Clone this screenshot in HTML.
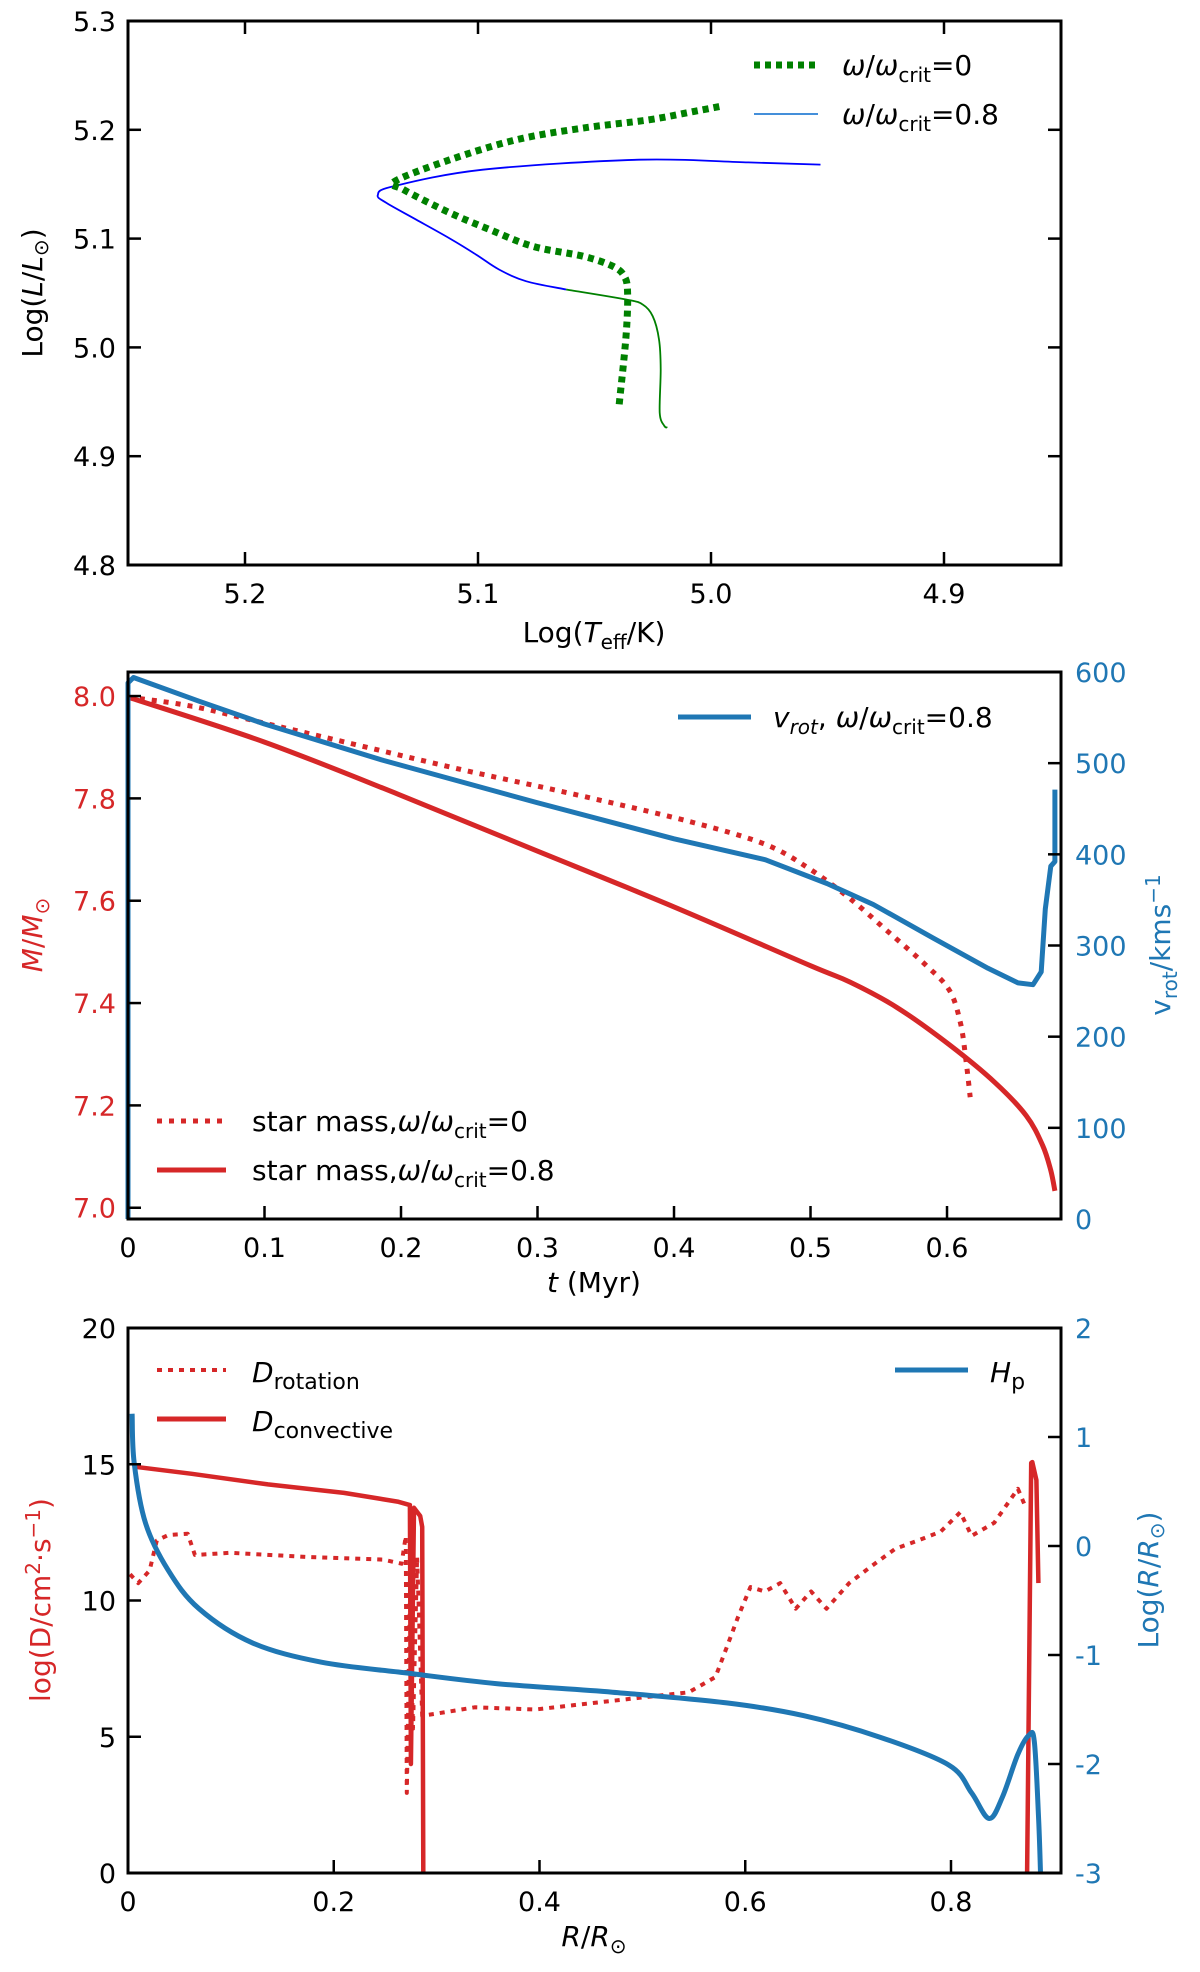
<!DOCTYPE html>
<html><head><meta charset="utf-8">
<style>
html,body{margin:0;padding:0;background:#fff;}
svg{display:block;font-family:"DejaVu Sans","Liberation Sans",sans-serif;}
</style></head>
<body>
<svg id="fig" width="1200" height="1972" viewBox="0 0 1200 1972" xmlns="http://www.w3.org/2000/svg"></svg>
<script>
// ---------- Panel 1 data (HR diagram) ----------
const hrNoRotT = [5.0394,5.0365,5.0358,5.0372,5.0422,5.055,5.0765,5.095,5.112,5.132,5.1358,5.112,5.0836,5.055,5.0266,5.007,4.995];
const hrNoRotL = [4.9477,5.010,5.050,5.0654,5.0746,5.0838,5.0929,5.1083,5.1236,5.145,5.1526,5.1725,5.1908,5.2016,5.2092,5.217,5.222];
const hrRotGreenT = [5.0187,5.0201,5.022,5.0216,5.0223,5.025,5.0294,5.0365,5.0622];
const hrRotGreenL = [4.9263,4.928,4.94,4.98,5.0073,5.0287,5.0395,5.044,5.0532];
const hrRotBlueT = [5.0622,5.0794,5.091,5.1008,5.112,5.1265,5.1393,5.143,5.1365,5.098,5.0308,4.984,4.953];
const hrRotBlueL = [5.0532,5.0608,5.0716,5.0853,5.100,5.1174,5.1328,5.140,5.148,5.1633,5.1725,5.170,5.168];
const p1XTicks = [5.2,5.1,5.0,4.9];
const p1XTickLabels = ["5.2","5.1","5.0","4.9"];
const p1YTicks = [4.8,4.9,5.0,5.1,5.2,5.3];
const p1YTickLabels = ["4.8","4.9","5.0","5.1","5.2","5.3"];

// ---------- Panel 2 data (mass & vrot vs time) ----------
const massNoRotT = [0,0.047,0.1,0.159,0.243,0.327,0.411,0.467,0.5,0.529,0.557,0.585,0.602,0.61,0.614,0.617];
const massNoRotM = [7.998,7.98,7.947,7.91,7.857,7.808,7.755,7.71,7.661,7.604,7.539,7.473,7.424,7.359,7.286,7.216];
const massRotT = [0,0.1,0.198,0.299,0.4,0.5,0.529,0.563,0.602,0.635,0.658,0.67,0.676,0.679];
const massRotM = [7.998,7.91,7.808,7.698,7.588,7.473,7.441,7.392,7.318,7.245,7.18,7.122,7.073,7.033];
const vrotT = [0,0,0.004,0.052,0.1,0.187,0.299,0.4,0.467,0.512,0.546,0.59,0.63,0.652,0.663,0.669,0.672,0.676,0.679,0.679];
const vrotV = [0,588,594,568,543,503,457,417,394,368,345,308,275,259,257,271,340,387,392,471];
const p2XTicks = [0,0.1,0.2,0.3,0.4,0.5,0.6];
const p2XTickLabels = ["0","0.1","0.2","0.3","0.4","0.5","0.6"];
const p2YTicks = [7.0,7.2,7.4,7.6,7.8,8.0];
const p2YTickLabels = ["7.0","7.2","7.4","7.6","7.8","8.0"];
const p2Y2Ticks = [0,100,200,300,400,500,600];
const p2Y2TickLabels = ["0","100","200","300","400","500","600"];

// ---------- Panel 3 data (diffusion coefficients) ----------
const drotR = [0.002,0.01,0.021,0.028,0.039,0.058,0.065,0.099,0.173,0.248,0.266,0.27,0.271,0.274,0.277,0.281,0.286,0.3,0.337,0.396,0.471,0.545,0.571,0.582,0.593,0.605,0.619,0.634,0.649,0.664,0.679,0.701,0.723,0.746,0.768,0.79,0.809,0.82,0.842,0.865,0.872];
const drotD = [10.96,10.64,11.1,12.2,12.4,12.45,11.67,11.75,11.6,11.5,11.35,12.37,2.94,10.0,5.3,11.6,5.77,5.85,6.08,6.0,6.32,6.63,7.19,8.28,9.39,10.49,10.33,10.64,9.7,10.33,9.7,10.64,11.27,11.9,12.2,12.53,13.24,12.37,12.85,14.1,13.47];
const dconvR = [0.004,0.01,0.062,0.136,0.21,0.262,0.274,0.275,0.278,0.284,0.286,0.287];
const dconvD = [15.08,14.89,14.65,14.26,13.95,13.63,13.5,4.0,13.4,13.1,12.7,0];
const dconv2R = [0.874,0.878,0.879,0.883,0.885];
const dconv2D = [0,15.05,15.08,14.42,10.64];
const hpR = [0.004,0.006,0.017,0.039,0.069,0.121,0.188,0.27,0.359,0.471,0.582,0.657,0.731,0.798,0.82,0.837,0.85,0.865,0.876,0.881,0.885,0.887];
const hpLogR = [1.214,0.762,0.211,-0.221,-0.575,-0.889,-1.066,-1.164,-1.263,-1.341,-1.439,-1.557,-1.754,-2.01,-2.265,-2.5,-2.304,-1.911,-1.734,-1.793,-2.461,-3];
const p3XTicks = [0,0.2,0.4,0.6,0.8];
const p3XTickLabels = ["0","0.2","0.4","0.6","0.8"];
const p3YTicks = [0,5,10,15,20];
const p3YTickLabels = ["0","5","10","15","20"];
const p3Y2Ticks = [-3,-2,-1,0,1,2];
const p3Y2TickLabels = ["-3","-2","-1","0","1","2"];

const NS = "http://www.w3.org/2000/svg";
const svg = document.getElementById('fig');
function mk(tag, attrs, parent){
  const e = document.createElementNS(NS, tag);
  for (const k in attrs) e.setAttribute(k, attrs[k]);
  (parent||svg).appendChild(e);
  return e;
}
function lin(d0,d1,p0,p1){ return v => p0 + (v-d0)/(d1-d0)*(p1-p0); }
const L = 128, R = 1061;
const RED = "#d62728", BLUE = "#1f77b4";

function pathD(xs, ys, fx, fy, smooth){
  const P = xs.map((x,i)=>[fx(x), fy(ys[i])]);
  if (!smooth) return P.map((p,i)=>(i?'L':'M')+p[0].toFixed(1)+','+p[1].toFixed(1)).join(' ');
  let d = 'M'+P[0][0].toFixed(1)+','+P[0][1].toFixed(1);
  for (let i=0;i<P.length-1;i++){
    const p0=P[Math.max(i-1,0)], p1=P[i], p2=P[i+1], p3=P[Math.min(i+2,P.length-1)];
    const c1=[p1[0]+(p2[0]-p0[0])/6, p1[1]+(p2[1]-p0[1])/6];
    const c2=[p2[0]-(p3[0]-p1[0])/6, p2[1]-(p3[1]-p1[1])/6];
    d += ' C'+c1[0].toFixed(1)+','+c1[1].toFixed(1)+' '+c2[0].toFixed(1)+','+c2[1].toFixed(1)+' '+p2[0].toFixed(1)+','+p2[1].toFixed(1);
  }
  return d;
}
function frame(top, bottom, name){
  const r = mk('rect',{x:L,y:top,width:R-L,height:bottom-top,fill:'none',stroke:'#000','stroke-width':3});
  
  
}
function xTicks(ticks, labels, fx, top, bottom, topTicks, name){
  ticks.forEach((t,i)=>{
    const x = fx(t);
    const tk = mk('line',{x1:x,x2:x,y1:bottom,y2:bottom-13,stroke:'#000','stroke-width':2.5});
    
    
    if (topTicks){
      const tt = mk('line',{x1:x,x2:x,y1:top,y2:top+13,stroke:'#000','stroke-width':2.5});
      
      
    }
    const tx = mk('text',{x:x,y:bottom+38,'text-anchor':'middle','font-size':27,fill:'#000'});
    tx.textContent = labels[i];
    
    
  });
}
function yTicks(ticks, labels, fy, color, name, side){
  ticks.forEach((t,i)=>{
    const y = fy(t);
    const x0 = side==='left'?L:R;
    const x1 = side==='left'?L+13:R-13;
    const tk = mk('line',{x1:x0,x2:x1,y1:y,y2:y,stroke:'#000','stroke-width':2.5});
    
    
    if (labels[i] === undefined) return;
    const tx = mk('text',{x: side==='left'?L-12:R+14, y:y+10,'text-anchor': side==='left'?'end':'start','font-size':27,fill:color});
    tx.textContent = labels[i];
    
    
  });
}
function series(xs, ys, fx, fy, attrs, name, smooth){
  const p = mk('path', Object.assign({d:pathD(xs,ys,fx,fy,smooth),fill:'none','stroke-linejoin':'round'}, attrs));
  
  
  return p;
}
function htmlText(x,y,html,attrs,name){
  const t = mk('text', Object.assign({x:x,y:y,'font-size':28,fill:'#000'}, attrs));
  t.innerHTML = html;
  
  
  return t;
}

// ===== Panel 1 =====
(function(){
  const top=21, bottom=565;
  const fx = lin(5.2,4.9,245,944);
  const fy = lin(5.3,4.8,top,bottom);
  series(hrRotGreenT, hrRotGreenL, fx, fy, {stroke:'green','stroke-width':1.8}, 'rot-track-green-segment', true);
  series(hrRotBlueT, hrRotBlueL, fx, fy, {stroke:'blue','stroke-width':1.8}, 'rot-track-blue-segment', true);
  series(hrNoRotT, hrNoRotL, fx, fy, {stroke:'green','stroke-width':7,'stroke-dasharray':'6 5'}, 'norot-track', true);
  frame(top,bottom,'hr-panel');
  xTicks(p1XTicks,p1XTickLabels,fx,top,bottom,true,'hr');
  yTicks(p1YTicks,p1YTickLabels,fy,'#000','hr-y','left');
  yTicks(p1YTicks,[],fy,'#000','hr-y-right','right');
  htmlText(594,642,'Log(<tspan font-style="italic">T</tspan><tspan font-size="20" dy="7">eff</tspan><tspan dy="-7">/K)</tspan>',{'text-anchor':'middle'},'hr-x-axis-title');
  htmlText(0,0,'Log(<tspan font-style="italic">L</tspan>/<tspan font-style="italic">L</tspan><tspan font-size="20" dy="6">⊙</tspan><tspan dy="-6">)</tspan>',{'text-anchor':'middle',transform:'translate(42,293) rotate(-90)'},'hr-y-axis-title');
  const l1 = mk('line',{x1:754,x2:818,y1:65,y2:65,stroke:'green','stroke-width':7,'stroke-dasharray':'6 5'});
  
  
  htmlText(842,75,'<tspan font-style="italic">ω</tspan>/<tspan font-style="italic">ω</tspan><tspan font-size="20" dy="7">crit</tspan><tspan dy="-7">=0</tspan>',{},'legend-norot-label');
  const l2 = mk('line',{x1:754,x2:818,y1:114,y2:114,stroke:'#2a7fd4','stroke-width':1.8});
  
  
  htmlText(842,124,'<tspan font-style="italic">ω</tspan>/<tspan font-style="italic">ω</tspan><tspan font-size="20" dy="7">crit</tspan><tspan dy="-7">=0.8</tspan>',{},'legend-rot-label');
})();

// ===== Panel 2 =====
(function(){
  const top=672, bottom=1219;
  const fx = lin(0,0.6835,L,R);
  const fy = lin(8.047,6.978,top,bottom);
  const fy2 = lin(600,0,top,bottom);
  series(massNoRotT, massNoRotM, fx, fy, {stroke:RED,'stroke-width':5,'stroke-dasharray':'5 7'}, 'mass-norot-line', true);
  series(massRotT, massRotM, fx, fy, {stroke:RED,'stroke-width':5}, 'mass-rot-line', true);
  series(vrotT, vrotV, fx, fy2, {stroke:BLUE,'stroke-width':5}, 'vrot-line', false);
  frame(top,bottom,'mass-panel');
  xTicks(p2XTicks,p2XTickLabels,fx,top,bottom,false,'mass');
  yTicks(p2YTicks,p2YTickLabels,fy,RED,'mass-y','left');
  yTicks(p2Y2Ticks,p2Y2TickLabels,fy2,BLUE,'vrot-y','right');
  htmlText(594,1292,'<tspan font-style="italic">t</tspan> (Myr)',{'text-anchor':'middle'},'mass-x-axis-title');
  htmlText(0,0,'<tspan font-style="italic">M</tspan>/<tspan font-style="italic">M</tspan><tspan font-size="20" dy="7">⊙</tspan>',{'text-anchor':'middle',transform:'translate(42,935) rotate(-90)',fill:RED},'mass-y-axis-title');
  htmlText(0,0,'v<tspan font-size="20" dy="7">rot</tspan><tspan dy="-7">/kms</tspan><tspan font-size="20" dy="-10">−1</tspan>',{'text-anchor':'middle',transform:'translate(1170,945) rotate(-90)',fill:BLUE},'vrot-y-axis-title');
  const lb = mk('line',{x1:678,x2:751,y1:717,y2:717,stroke:BLUE,'stroke-width':5});
  
  
  htmlText(773,727,'<tspan font-style="italic">v</tspan><tspan font-style="italic" font-size="20" dy="7">rot</tspan><tspan dy="-7">, </tspan><tspan font-style="italic">ω</tspan>/<tspan font-style="italic">ω</tspan><tspan font-size="20" dy="7">crit</tspan><tspan dy="-7">=0.8</tspan>',{},'legend-vrot-label');
  const ld = mk('line',{x1:157,x2:226,y1:1121,y2:1121,stroke:RED,'stroke-width':5,'stroke-dasharray':'5 7'});
  
  
  htmlText(252,1131,'star mass,<tspan font-style="italic">ω</tspan>/<tspan font-style="italic">ω</tspan><tspan font-size="20" dy="7">crit</tspan><tspan dy="-7">=0</tspan>',{},'legend-mass-norot-label');
  const ls = mk('line',{x1:157,x2:226,y1:1170,y2:1170,stroke:RED,'stroke-width':5});
  
  
  htmlText(252,1180,'star mass,<tspan font-style="italic">ω</tspan>/<tspan font-style="italic">ω</tspan><tspan font-size="20" dy="7">crit</tspan><tspan dy="-7">=0.8</tspan>',{},'legend-mass-rot-label');
})();

// ===== Panel 3 =====
(function(){
  const top=1328, bottom=1873;
  const fx = lin(0,0.8,L,951);
  const fy = lin(20,0,top,bottom);
  const fy2 = lin(2,-3,top,bottom);
  series(drotR, drotD, fx, fy, {stroke:RED,'stroke-width':4,'stroke-dasharray':'5 6'}, 'd-rotation-line', false);
  series(dconvR, dconvD, fx, fy, {stroke:RED,'stroke-width':4.5}, 'd-convective-core-line', false);
  series(dconv2R, dconv2D, fx, fy, {stroke:RED,'stroke-width':4.5}, 'd-convective-envelope-line', false);
  series(hpR, hpLogR, fx, fy2, {stroke:BLUE,'stroke-width':5}, 'hp-line', true);
  frame(top,bottom,'diff-panel');
  xTicks(p3XTicks,p3XTickLabels,fx,top,bottom,false,'diff');
  yTicks(p3YTicks,p3YTickLabels,fy,'#000','diff-y','left');
  yTicks(p3Y2Ticks,p3Y2TickLabels,fy2,BLUE,'logr-y','right');
  htmlText(594,1946,'<tspan font-style="italic">R</tspan>/<tspan font-style="italic">R</tspan><tspan font-size="20" dy="7">⊙</tspan>',{'text-anchor':'middle'},'diff-x-axis-title');
  htmlText(0,0,'log(D/cm<tspan font-size="20" dy="-10">2</tspan><tspan dy="10">·s</tspan><tspan font-size="20" dy="-10">−1</tspan><tspan dy="10">)</tspan>',{'text-anchor':'middle',transform:'translate(50,1600) rotate(-90)',fill:RED},'diff-y-axis-title');
  htmlText(0,0,'Log(<tspan font-style="italic">R</tspan>/<tspan font-style="italic">R</tspan><tspan font-size="20" dy="6">⊙</tspan><tspan dy="-6">)</tspan>',{'text-anchor':'middle',transform:'translate(1158,1580) rotate(-90)',fill:BLUE},'logr-y-axis-title');
  const a = mk('line',{x1:157,x2:226,y1:1370,y2:1370,stroke:RED,'stroke-width':4,'stroke-dasharray':'5 6'});
  
  
  htmlText(252,1382,'<tspan font-style="italic">D</tspan><tspan font-size="22" dy="7">rotation</tspan>',{},'legend-d-rotation-label');
  const b = mk('line',{x1:157,x2:226,y1:1419,y2:1419,stroke:RED,'stroke-width':5});
  
  
  htmlText(252,1431,'<tspan font-style="italic">D</tspan><tspan font-size="22" dy="7">convective</tspan>',{},'legend-d-convective-label');
  const c = mk('line',{x1:895,x2:968,y1:1370,y2:1370,stroke:BLUE,'stroke-width':5});
  
  
  htmlText(990,1382,'<tspan font-style="italic">H</tspan><tspan font-size="22" dy="7">p</tspan>',{},'legend-hp-label');
})();
</script>
</body></html>
